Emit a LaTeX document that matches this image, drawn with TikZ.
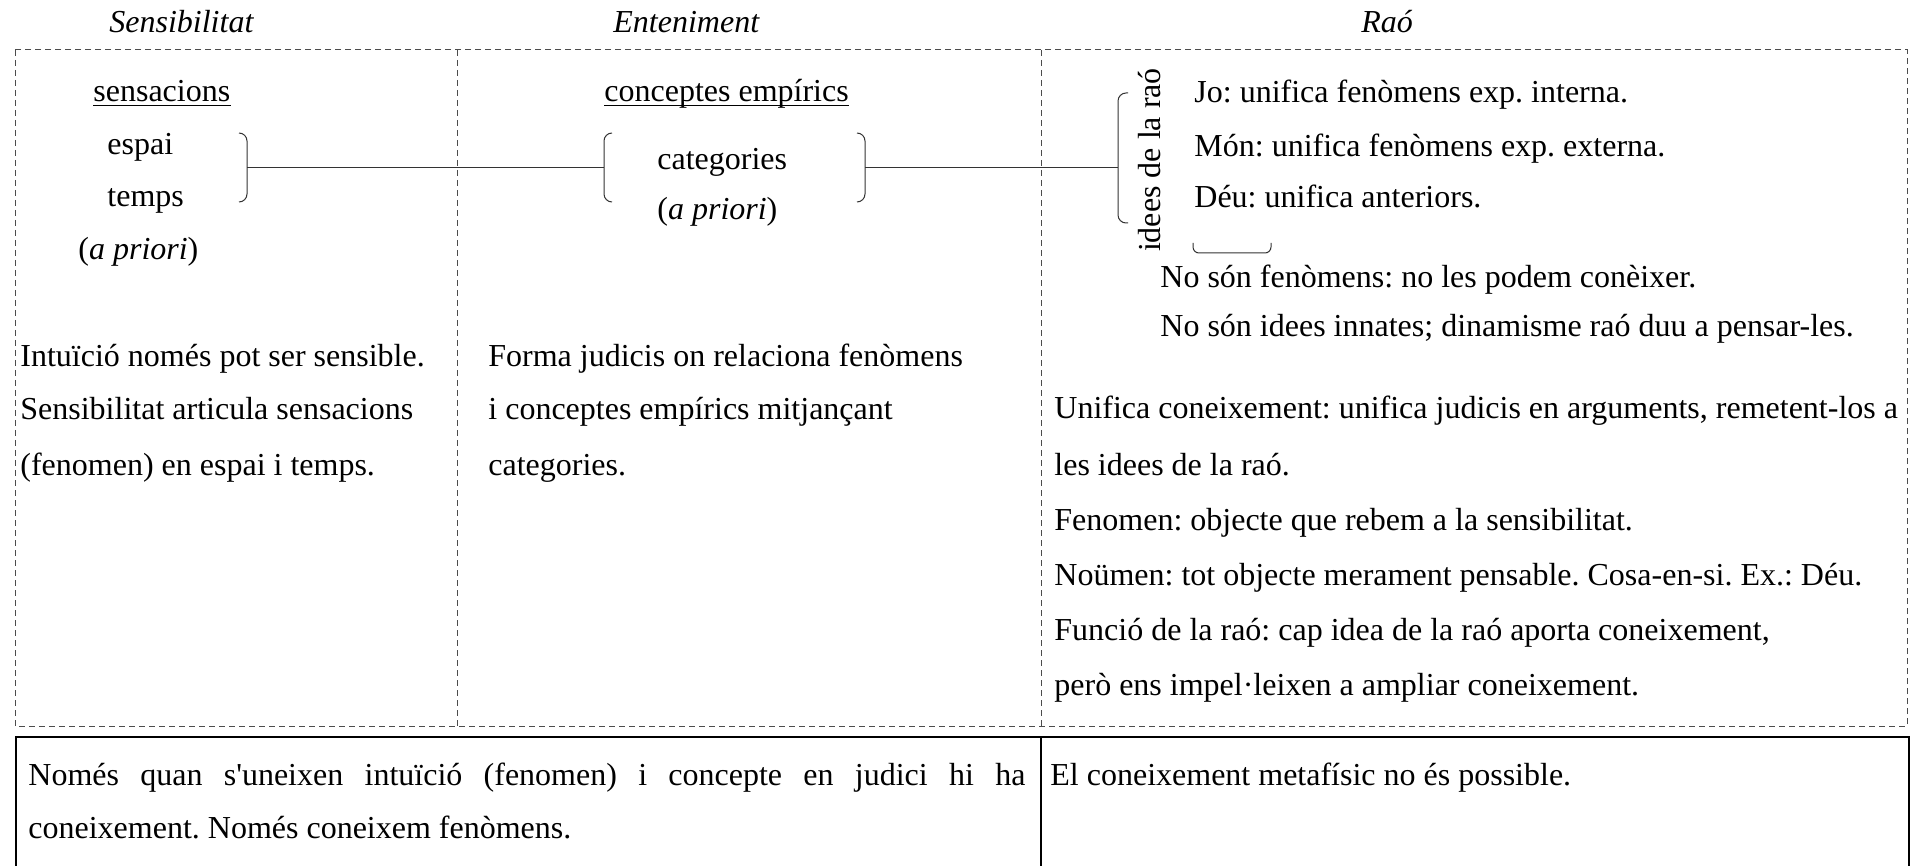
\documentclass[tikz,border=0pt]{standalone}
\usepackage{fontspec}
\setmainfont{Liberation Serif}
\usepackage{tikz}
\usetikzlibrary{positioning}
\tikzset{
line/.style = {inner sep=0pt, anchor=base west},
frame/.style = {draw=black!70, dash pattern=on 3pt off 2pt, line width=0.5pt},
solidframe/.style = {draw=black, line width=0.7pt},
bracket/.style = {draw=black!80, line width=0.5pt, rounded corners=4pt},
link/.style = {draw=black!80, line width=0.5pt},
uline/.style = {draw=black, line width=0.5pt},
}

\begin{document}
\begin{tikzpicture}[x=0.5pt, y=-0.5pt, font=\fontsize{16}{19}\selectfont\frenchspacing]
\clip (0,0) rectangle (1913,866);
% titols
\node [line] (hsens) at (109,33) {\textit{Sensibilitat}};
\node [line] (hent) at (613,33) {\textit{Enteniment}};
\node [line] (hrao) at (1361,33) {\textit{Raó}};

% marcs
\draw [frame] (15,50) rectangle (1907,726);
\draw [frame] (457,50) -- (457,726);
\draw [frame] (1041,50) -- (1041,726);
\draw [solidframe] (16,880) |- (1909,737) -- (1909,880);
\draw [solidframe] (1041,737) -- (1041,880);

% sensibilitat
\node [line] (sens) at (93,102) {sensacions};
\draw [uline] ([yshift=-2pt]sens.base west) -- ([yshift=-2pt]sens.base east);
\node [line] (espai) at (107,155) {espai};
\node [line] (temps) at (107,207) {temps};
\node [line] (apsens) at (78,260) {(\textit{a priori})};
\draw [bracket] (239,133) -- (247,133) -- (247,202) -- (239,202);
\coordinate (bsens) at (247,168);
\node [line] (s1) at (20,366) {Intuïció només pot ser sensible.};
\node [line] (s2) at (20,420) {Sensibilitat articula sensacions};
\node [line] (s3) at (20,475) {(fenomen) en espai i temps.};

% enteniment
\node [line] (emp) at (604,102) {conceptes empírics};
\draw [uline] ([yshift=-2pt]emp.base west) -- ([yshift=-2pt]emp.base east);
\node [line] (cat) at (657,170) {categories};
\node [line] (apent) at (657,220) {(\textit{a priori})};
\draw [bracket] (612,133) -- (604,133) -- (604,202) -- (612,202);
\draw [bracket] (857,133) -- (865,133) -- (865,202) -- (857,202);
\coordinate (bentl) at (604,168);
\coordinate (bentr) at (865,168);
\node [line] (e1) at (488,366) {Forma judicis on relaciona fenòmens};
\node [line] (e2) at (488,420) {i conceptes empírics mitjançant};
\node [line] (e3) at (488,475) {categories.};

% rao
\draw [bracket] (1128,93) -- (1118,93) -- (1118,223) -- (1128,223);
\coordinate (brao) at (1118,168);
\node [rotate=90, inner sep=0pt] (idees) at (1150,160) {idees de la raó};
\node [line] (jo) at (1194,103) {Jo: unifica fenòmens exp. interna.};
\node [line] (mon) at (1194,157) {Món: unifica fenòmens exp. externa.};
\node [line] (deu) at (1194,208) {Déu: unifica anteriors.};
\draw [bracket, rounded corners=3pt] (1193,243) -- (1193,253) -- (1271,253) -- (1271,243);
\node [line] (nf) at (1160,288) {No són fenòmens: no les podem conèixer.};
\node [line] (ni) at (1160,337) {No són idees innates; dinamisme raó duu a pensar-les.};
\node [line] (r1) at (1054,419) {Unifica coneixement: unifica judicis en arguments, remetent-los a};
\node [line] (r2) at (1054,475) {les idees de la raó.};
\node [line] (r3) at (1054,530) {Fenomen: objecte que rebem a la sensibilitat.};
\node [line] (r4) at (1054,585) {Noümen: tot objecte merament pensable. Cosa-en-si. Ex.: Déu.};
\node [line] (r5) at (1054,640) {Funció de la raó: cap idea de la raó aporta coneixement,};
\node [line] (r6) at (1054,695) {però ens impel·leixen a ampliar coneixement.};

% enllacos
\draw [link] (bsens) -- (bentl);
\draw [link] (bentr) -- (brao);

% conclusions
\node [line] (c1) at (28,785) {\makebox[498.5pt][s]{Només quan s\textquotesingle uneixen intuïció (fenomen) i concepte en judici hi ha}};
\node [line] (c2) at (28,838) {coneixement. Només coneixem fenòmens.};
\node [line] (c3) at (1050,785) {El coneixement metafísic no és possible.};
\end{tikzpicture}
\end{document}
